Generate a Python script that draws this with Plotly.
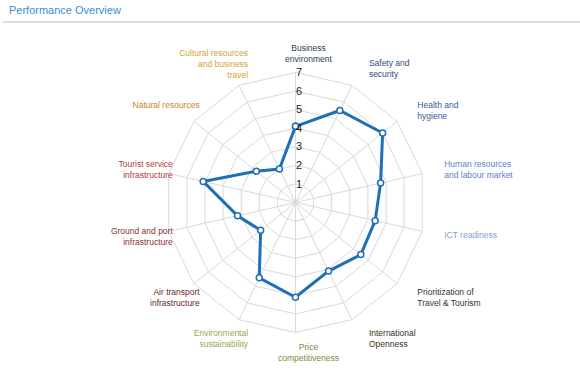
import plotly.graph_objects as go

categories = [
    "Business<br>environment", "Safety and<br>security", "Health and<br>hygiene",
    "Human resources<br>and labour market", "ICT readiness",
    "Prioritization of<br>Travel & Tourism", "International<br>Openness",
    "Price<br>competitiveness", "Environmental<br>sustainability",
    "Air transport<br>infrastructure", "Ground and port<br>infrastructure",
    "Tourist service<br>infrastructure", "Natural resources",
    "Cultural resources<br>and business<br>travel",
]
values = [4.1, 5.5, 6.0, 4.7, 4.4, 4.5, 4.1, 5.1, 4.5, 2.4, 3.2, 5.1, 2.7, 2.0]
label_colors = [
    "#2b3a58", "#2f4c80", "#3a58a0", "#5f7fc6", "#7f9ed8",
    "#333333", "#3a3020", "#7d8c3c", "#93ab55",
    "#6b1f1f", "#8c2f2f", "#b03a3a", "#c7852a", "#d69f35",
]
radial_ticks = [1, 2, 3, 4, 5, 6, 7]

def label_html(text, color):
    s = f"<span style='color:{color}'>{text}</span>"
    if "<br>" not in text:
        s += "<br>&nbsp;"  # keep single-line labels aligned like the two-line ones
    return s

ticktext = [label_html(t, c) for t, c in zip(categories, label_colors)]
ticktext[4] = f"<span style='color:{label_colors[4]}'>{categories[4]}</span>"

fig = go.Figure()
fig.add_trace(go.Scatterpolar(
    r=values + values[:1],
    theta=categories + categories[:1],
    mode="lines+markers",
    line=dict(color="#1f6fb8", width=3),
    marker=dict(size=6, color="white", line=dict(color="#1f6fb8", width=1.5)),
    showlegend=False,
    hoverinfo="skip",
))
# invisible carrier trace for the label-only subplot
fig.add_trace(go.Scatterpolar(
    r=values, theta=categories, mode="markers", subplot="polar2",
    marker=dict(opacity=0), showlegend=False, hoverinfo="skip",
))

W, H = 580, 387
cx, cy, R = 295.5, 202.5, 130
LABEL_SHIFT = 13

def dom(shift=0):
    return dict(x=[(cx - R + shift) / W, (cx + R + shift) / W],
                y=[(H - cy - R) / H, (H - cy + R) / H])

angular_common = dict(
    categoryorder="array", categoryarray=categories,
    tickvals=categories, ticktext=ticktext,
    direction="clockwise", rotation=90,
)

fig.update_layout(
    width=W, height=H,
    margin=dict(l=0, r=0, t=0, b=0),
    paper_bgcolor="white",
    font=dict(family="Liberation Sans, Arial, sans-serif", size=8.5, color="#333"),
    polar=dict(
        domain=dom(),
        gridshape="linear",
        bgcolor="white",
        radialaxis=dict(
            range=[0, 7], tickvals=radial_ticks, angle=90, tickangle=90,
            showline=False, gridcolor="#d9d9d9", gridwidth=1,
            ticks="", tickfont=dict(size=11, color="#222"),
        ),
        angularaxis=dict(
            **angular_common,
            gridcolor="#d9d9d9", linecolor="#d9d9d9", showline=True,
            ticks="", showticklabels=False,
        ),
    ),
    polar2=dict(
        domain=dom(LABEL_SHIFT),
        gridshape="linear",
        bgcolor="rgba(0,0,0,0)",
        radialaxis=dict(range=[0, 7], visible=False),
        angularaxis=dict(
            **angular_common,
            showgrid=False, showline=False,
            ticks="outside", ticklen=7, tickcolor="rgba(0,0,0,0)",
            tickfont=dict(size=8.5),
        ),
    ),
    annotations=[dict(
        text="Performance Overview", x=7 / W, y=1 - 10 / H, xref="paper", yref="paper",
        xanchor="left", yanchor="middle", showarrow=False,
        font=dict(size=11, color="#3d8ccb"),
    )],
    shapes=[dict(type="line", xref="paper", yref="paper", x0=3 / W, x1=1,
                 y0=1 - 22 / H, y1=1 - 22 / H,
                 line=dict(color="#d0d0d0", width=1.5))],
)

fig.write_html(
    "out.html",
    config={"displayModeBar": False},
    post_script="document.body.style.margin='0';document.body.style.overflow='hidden';",
)
